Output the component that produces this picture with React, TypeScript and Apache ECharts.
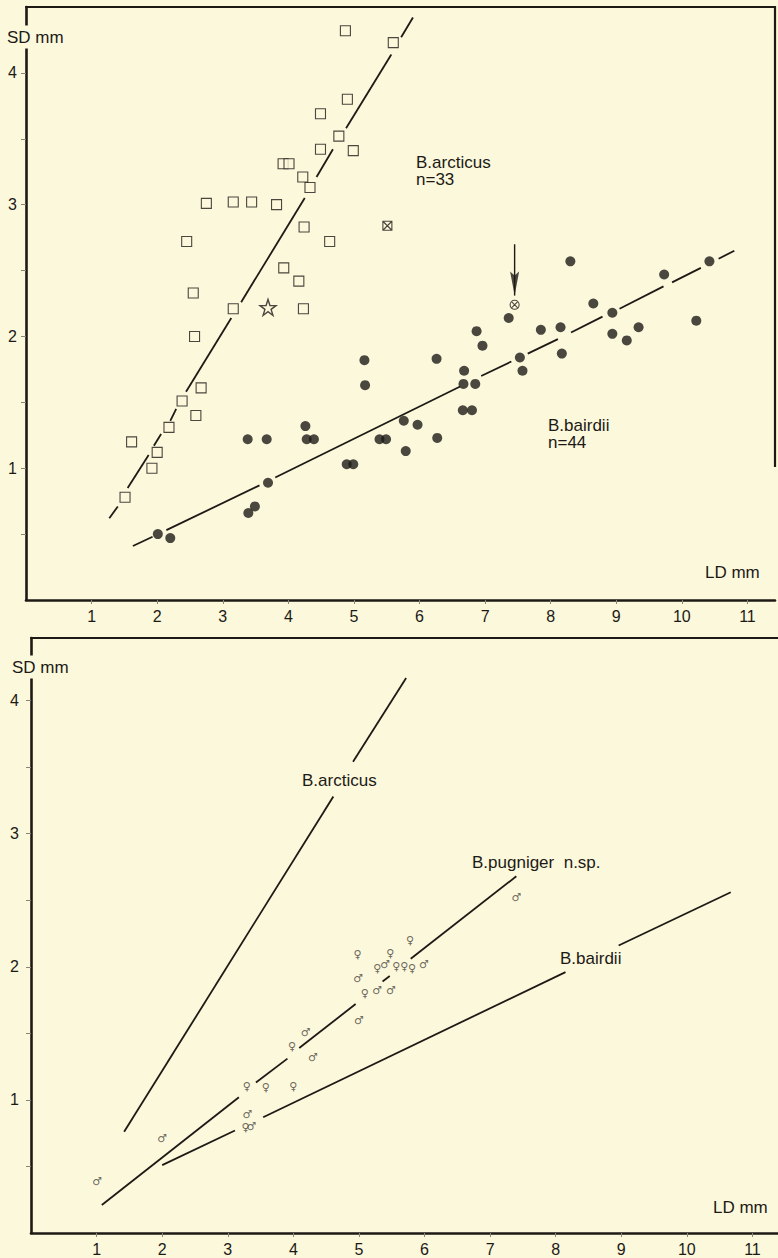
import React, { useEffect, useRef } from "react";
import * as echarts from "echarts";

// ---------- data (LD mm, SD mm) ----------
const xTickValues = [1, 2, 3, 4, 5, 6, 7, 8, 9, 10, 11];
const yLabelValues = [1, 2, 3, 4];
const yTickValues = [0.5, 1, 1.5, 2, 2.5, 3, 3.5, 4];

// Upper panel: B. arcticus (open squares)
const arcticusSquares = [
  [4.87, 4.32], [5.6, 4.23], [4.9, 3.8], [4.49, 3.69], [4.77, 3.52], [4.49, 3.42],
  [4.99, 3.41], [3.92, 3.31], [4.01, 3.31], [4.22, 3.21], [4.33, 3.13], [2.75, 3.01],
  [3.16, 3.02], [3.44, 3.02], [3.82, 3.0], [4.24, 2.83], [2.45, 2.72], [4.63, 2.72],
  [3.93, 2.52], [4.16, 2.42], [2.55, 2.33], [3.16, 2.21], [4.23, 2.21], [2.57, 2.0],
  [2.67, 1.61], [2.38, 1.51], [2.59, 1.4], [2.18, 1.31], [1.61, 1.2], [2.0, 1.12],
  [1.92, 1.0], [1.51, 0.78],
];
const arcticusCrossed = [[5.51, 2.84]];
const starPoint = [[3.69, 2.22]];

// Upper panel: B. bairdii (filled dots)
const bairdiiDots = [
  [2.01, 0.5], [2.2, 0.47], [3.38, 1.22], [3.67, 1.22], [3.69, 0.89], [3.39, 0.66],
  [3.49, 0.71], [4.26, 1.32], [4.28, 1.22], [4.39, 1.22], [4.89, 1.03], [4.99, 1.03],
  [5.16, 1.82], [5.17, 1.63], [5.39, 1.22], [5.49, 1.22], [5.76, 1.36], [5.97, 1.33],
  [5.79, 1.13], [6.27, 1.23], [6.26, 1.83], [6.68, 1.74], [6.67, 1.64], [6.85, 1.64],
  [6.66, 1.44], [6.8, 1.44], [6.87, 2.04], [6.96, 1.93], [7.36, 2.14], [7.53, 1.84],
  [7.57, 1.74], [7.85, 2.05], [8.15, 2.07], [8.17, 1.87], [8.3, 2.57], [8.65, 2.25],
  [8.94, 2.18], [8.94, 2.02], [9.16, 1.97], [9.34, 2.07], [9.73, 2.47], [10.22, 2.12],
  [10.42, 2.57],
];
const bairdiiCrossed = [[7.45, 2.24]];
const arrowFrom = [7.45, 2.7];
const arrowTo = [7.45, 2.31];

// Upper panel regression lines (visible pieces)
const topArcticusLine = [
  [[1.27, 0.62], [1.4, 0.71]],
  [[1.55, 0.85], [1.87, 1.1]],
  [[1.95, 1.17], [2.06, 1.26]],
  [[2.2, 1.36], [2.29, 1.45]],
  [[2.44, 1.58], [3.13, 2.14]],
  [[3.28, 2.26], [4.25, 3.05]],
  [[4.43, 3.21], [4.68, 3.42]],
  [[4.88, 3.58], [5.57, 4.14]],
  [[5.72, 4.27], [5.9, 4.42]],
];
const topBairdiiLine = [
  [[1.63, 0.41], [1.93, 0.48]],
  [[2.14, 0.53], [3.56, 0.87]],
  [[3.8, 0.93], [6.62, 1.62]],
  [[6.94, 1.7], [7.4, 1.81]],
  [[7.65, 1.87], [8.11, 1.98]],
  [[8.31, 2.03], [8.79, 2.15]],
  [[9.05, 2.21], [9.72, 2.38]],
  [[9.85, 2.41], [10.29, 2.52]],
  [[10.56, 2.59], [10.8, 2.65]],
];

// Lower panel: B. pugniger n.sp. specimens
const females = [
  [3.29, 1.1], [3.58, 1.09], [4.0, 1.1], [3.27, 0.79], [3.98, 1.4], [4.98, 2.09],
  [5.09, 1.8], [5.28, 1.99], [5.78, 2.2], [5.48, 2.1], [5.57, 2.0], [5.69, 2.0],
  [5.81, 1.99],
];
const males = [
  [1.01, 0.39], [2.0, 0.71], [3.3, 0.89], [3.36, 0.8], [4.19, 1.51], [4.3, 1.32],
  [5.0, 1.6], [4.99, 1.91], [5.28, 1.82], [5.4, 2.02], [5.49, 1.82], [5.99, 2.02],
  [7.4, 2.52],
];

// Lower panel regression lines (visible pieces)
const lowArcticusLine = [
  [[1.42, 0.76], [4.61, 3.28]],
  [[4.91, 3.54], [5.72, 4.17]],
];
const lowPugnigerLine = [
  [[1.08, 0.21], [3.17, 1.02]],
  [[3.43, 1.13], [3.91, 1.31]],
  [[4.09, 1.39], [4.95, 1.72]],
  [[5.36, 1.89], [5.47, 1.93]],
  [[5.79, 2.06], [7.4, 2.68]],
];
const lowBairdiiLine = [
  [[2.0, 0.51], [3.11, 0.77]],
  [[3.54, 0.87], [8.15, 1.96]],
  [[8.96, 2.16], [10.67, 2.56]],
];

// ---------- styling ----------
const INK = "#1d1a16";
const BG = "#fcf8dc";
const FONT = "'Liberation Sans', Arial, Helvetica, sans-serif";
const STAR =
  "path://M50 2L61.8 37.6H99L68.9 59.6L80.4 95L50 73.2L19.6 95L31.1 59.6L1 37.6H38.2Z";
const CROSSED_SQUARE = "path://M0 0H10V10H0Z M0 0L10 10 M10 0L0 10";
const CROSSED_CIRCLE =
  "path://M10 5A5 5 0 1 1 0 5A5 5 0 1 1 10 5Z M1.8 1.8L8.2 8.2 M8.2 1.8L1.8 8.2";
const ARROW_HEAD = "path://M0 0L5 5L10 0L5 30Z";

function segSeries(segs: number[][][], xi: number, yi: number) {
  return segs.map((s) => ({
    type: "line",
    xAxisIndex: xi,
    yAxisIndex: yi,
    data: s,
    symbol: "none",
    showSymbol: false,
    silent: true,
    lineStyle: { color: INK, width: 1.8 },
    z: 2,
  }));
}

function bottomX(gridIndex: number, max: number) {
  return {
    type: "value",
    gridIndex,
    min: 0,
    max,
    interval: 1,
    position: "bottom",
    splitLine: { show: false },
    axisLine: { show: true, onZero: false, lineStyle: { color: INK, width: 2.6 } },
    axisTick: {
      show: true,
      customValues: xTickValues,
      length: 4,
      lineStyle: { color: "#8a8478", width: 1 },
    },
    axisLabel: {
      customValues: xTickValues,
      color: INK,
      fontSize: 16,
      fontFamily: FONT,
      margin: 8,
    },
  };
}
function topX(gridIndex: number, max: number) {
  return {
    type: "value",
    gridIndex,
    min: 0,
    max,
    position: "top",
    splitLine: { show: false },
    axisLine: { show: true, onZero: false, lineStyle: { color: INK, width: 2.2 } },
    axisTick: { show: false },
    axisLabel: { show: false },
  };
}
function leftY(gridIndex: number, max: number, margin: number) {
  return {
    type: "value",
    gridIndex,
    min: 0,
    max,
    interval: 0.5,
    splitLine: { show: false },
    axisLine: { show: true, onZero: false, lineStyle: { color: INK, width: 2.6 } },
    axisTick: {
      show: true,
      customValues: yTickValues,
      length: 5,
      lineStyle: { color: "#8a8478", width: 1 },
    },
    axisLabel: {
      customValues: yLabelValues,
      color: INK,
      fontSize: 16,
      fontFamily: FONT,
      margin,
    },
  };
}

function txt(text: string, x: number, y: number, bg = false) {
  return {
    type: "text",
    x,
    y,
    z: 100,
    silent: true,
    style: {
      text,
      fill: INK,
      font: `17px ${FONT}`,
      verticalAlign: "middle",
      align: "left",
      ...(bg ? { backgroundColor: BG, padding: [3, 1, 3, 1] } : {}),
    },
  };
}

const sexLabel = (glyph: string) => ({
  show: true,
  position: "inside",
  formatter: glyph,
  color: "#47423a",
  fontSize: 11,
  fontFamily: "'DejaVu Sans', sans-serif",
});

export default function App() {
  const ref = useRef<HTMLDivElement>(null);

  useEffect(() => {
    document.body.style.margin = "0";
    document.body.style.background = BG;
    if (!ref.current) return;
    const chart = echarts.init(ref.current, undefined, { renderer: "svg" });

    const option = {
      animation: false,
      backgroundColor: BG,
      grid: [
        { left: 26, right: 3, top: 7, bottom: 658 },
        { left: 31, right: 0, top: 638, bottom: 25 },
      ],
      xAxis: [bottomX(0, 11.42), topX(0, 11.42), bottomX(1, 11.39), topX(1, 11.39)],
      yAxis: [leftY(0, 4.5, 9), leftY(1, 4.47, 12)],
      series: [
        ...segSeries(topArcticusLine, 0, 0),
        ...segSeries(topBairdiiLine, 0, 0),
        {
          type: "scatter",
          xAxisIndex: 0,
          yAxisIndex: 0,
          data: arcticusSquares,
          symbol: "rect",
          symbolSize: 10,
          itemStyle: { color: BG, borderColor: INK, borderWidth: 1.1 },
          z: 3,
        },
        {
          type: "scatter",
          xAxisIndex: 0,
          yAxisIndex: 0,
          data: arcticusCrossed,
          symbol: CROSSED_SQUARE,
          symbolSize: 9,
          itemStyle: { color: BG, borderColor: INK, borderWidth: 1.1 },
          z: 3,
        },
        {
          type: "scatter",
          xAxisIndex: 0,
          yAxisIndex: 0,
          data: starPoint,
          symbol: STAR,
          symbolSize: 16,
          itemStyle: { color: BG, borderColor: INK, borderWidth: 1.4 },
          z: 3,
        },
        {
          type: "scatter",
          xAxisIndex: 0,
          yAxisIndex: 0,
          data: bairdiiDots,
          symbol: "circle",
          symbolSize: 10,
          itemStyle: { color: INK },
          z: 3,
        },
        {
          type: "scatter",
          xAxisIndex: 0,
          yAxisIndex: 0,
          data: bairdiiCrossed,
          symbol: CROSSED_CIRCLE,
          symbolSize: 9,
          itemStyle: { color: BG, borderColor: INK, borderWidth: 1.1 },
          z: 3,
        },
        {
          type: "line",
          xAxisIndex: 0,
          yAxisIndex: 0,
          data: [arrowFrom, arrowTo],
          symbol: "none",
          silent: true,
          lineStyle: { color: INK, width: 1.4 },
          z: 3,
        },
        {
          type: "scatter",
          xAxisIndex: 0,
          yAxisIndex: 0,
          data: [arrowTo],
          symbol: ARROW_HEAD,
          symbolSize: [9, 24],
          symbolOffset: [0, -12],
          itemStyle: { color: INK },
          z: 4,
        },
        ...segSeries(lowArcticusLine, 2, 1),
        ...segSeries(lowPugnigerLine, 2, 1),
        ...segSeries(lowBairdiiLine, 2, 1),
        {
          type: "scatter",
          xAxisIndex: 2,
          yAxisIndex: 1,
          data: females,
          symbol: "circle",
          symbolSize: 8,
          itemStyle: { color: "rgba(0,0,0,0)" },
          label: sexLabel("\u2640"),
          z: 3,
        },
        {
          type: "scatter",
          xAxisIndex: 2,
          yAxisIndex: 1,
          data: males,
          symbol: "circle",
          symbolSize: 8,
          itemStyle: { color: "rgba(0,0,0,0)" },
          label: sexLabel("\u2642"),
          z: 3,
        },
      ],
      graphic: [
        {
          type: "line",
          z: 100,
          silent: true,
          shape: { x1: 775, y1: 6, x2: 775, y2: 467 },
          style: { stroke: INK, lineWidth: 2.2 },
        },
        txt("SD mm", 6, 37, true),
        txt("B.arcticus", 416, 162),
        txt("n=33", 416, 179),
        txt("B.bairdii", 548, 425),
        txt("n=44", 548, 442),
        txt("LD mm", 705, 572),
        txt("SD mm", 11, 667, true),
        txt("B.arcticus", 301, 780, true),
        txt("B.pugniger  n.sp.", 472, 862),
        txt("B.bairdii", 560, 958),
        txt("LD mm", 713, 1207),
      ],
    };

    chart.setOption(option as any);
    return () => chart.dispose();
  }, []);

  return <div ref={ref} style={{ width: 778, height: 1258 }} />;
}
